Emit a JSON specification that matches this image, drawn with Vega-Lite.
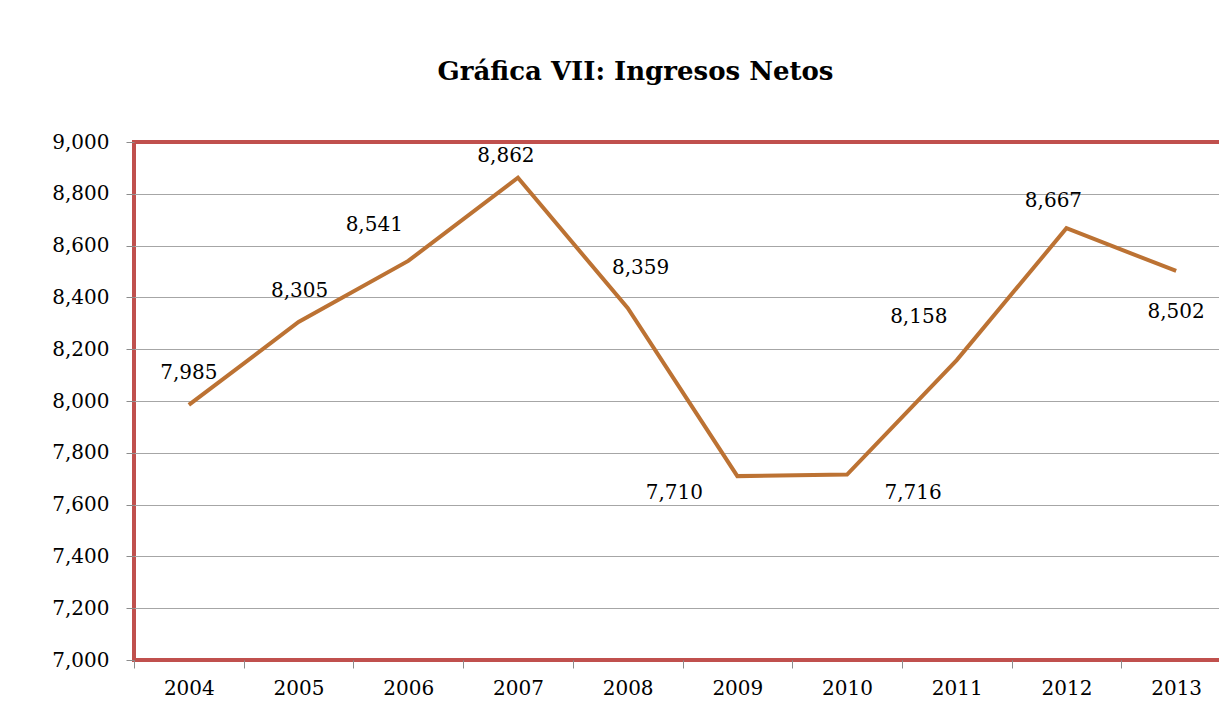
{
  "$schema": "https://vega.github.io/schema/vega-lite/v6.json",
  "autosize": {"type": "none"},
  "width": 1097,
  "height": 518,
  "padding": {"left": 134, "top": 142, "right": 0, "bottom": 65},
  "background": "white",
  "config": {
    "view": {"stroke": "#C0504D", "strokeWidth": 4},
    "font": "DejaVu Serif"
  },
  "title": {
    "text": "Gráfica VII: Ingresos Netos",
    "font": "DejaVu Serif",
    "fontSize": 26,
    "fontWeight": "bold",
    "color": "black",
    "anchor": "middle",
    "dx": -47,
    "offset": 47
  },
  "data": {
    "values": [
      {"year": "2004", "value": 7985},
      {"year": "2005", "value": 8305},
      {"year": "2006", "value": 8541},
      {"year": "2007", "value": 8862},
      {"year": "2008", "value": 8359},
      {"year": "2009", "value": 7710},
      {"year": "2010", "value": 7716},
      {"year": "2011", "value": 8158},
      {"year": "2012", "value": 8667},
      {"year": "2013", "value": 8502}
    ]
  },
  "encoding": {
    "x": {
      "field": "year",
      "type": "ordinal",
      "title": null,
      "axis": {
        "labelAngle": 0,
        "labelFont": "DejaVu Serif",
        "labelFontSize": 20,
        "labelColor": "black",
        "labelPadding": 10,
        "domain": false,
        "tickBand": "extent",
        "tickColor": "#8C8C8C",
        "tickSize": 8,
        "grid": false
      }
    },
    "y": {
      "field": "value",
      "type": "quantitative",
      "title": null,
      "scale": {"domain": [7000, 9000], "nice": false, "zero": false},
      "axis": {
        "values": [7000, 7200, 7400, 7600, 7800, 8000, 8200, 8400, 8600, 8800, 9000],
        "format": ",d",
        "labelFont": "DejaVu Serif",
        "labelFontSize": 20,
        "labelColor": "black",
        "labelPadding": 17,
        "domain": false,
        "tickColor": "#8C8C8C",
        "tickSize": 8,
        "grid": true,
        "gridColor": "#A6A6A6",
        "gridWidth": 1.2,
        "gridOpacity": {"condition": {"test": "datum.value == 9000 || datum.value == 7000", "value": 0}, "value": 1}
      }
    }
  },
  "layer": [
    {"mark": {"type": "line", "color": "#BC7233", "strokeWidth": 4}},
    {"transform": [{"filter": "datum.year == '2004'"}], "mark": {"type": "text", "fontSize": 20, "font": "DejaVu Serif", "color": "black", "dx": 0, "dy": -32}, "encoding": {"text": {"field": "value", "type": "quantitative", "format": ",d"}}},
    {"transform": [{"filter": "datum.year == '2005'"}], "mark": {"type": "text", "fontSize": 20, "font": "DejaVu Serif", "color": "black", "dx": 1, "dy": -31}, "encoding": {"text": {"field": "value", "type": "quantitative", "format": ",d"}}},
    {"transform": [{"filter": "datum.year == '2006'"}], "mark": {"type": "text", "fontSize": 20, "font": "DejaVu Serif", "color": "black", "dx": -34, "dy": -36}, "encoding": {"text": {"field": "value", "type": "quantitative", "format": ",d"}}},
    {"transform": [{"filter": "datum.year == '2007'"}], "mark": {"type": "text", "fontSize": 20, "font": "DejaVu Serif", "color": "black", "dx": -12, "dy": -22}, "encoding": {"text": {"field": "value", "type": "quantitative", "format": ",d"}}},
    {"transform": [{"filter": "datum.year == '2008'"}], "mark": {"type": "text", "fontSize": 20, "font": "DejaVu Serif", "color": "black", "dx": 13, "dy": -40}, "encoding": {"text": {"field": "value", "type": "quantitative", "format": ",d"}}},
    {"transform": [{"filter": "datum.year == '2009'"}], "mark": {"type": "text", "fontSize": 20, "font": "DejaVu Serif", "color": "black", "dx": -63, "dy": 17}, "encoding": {"text": {"field": "value", "type": "quantitative", "format": ",d"}}},
    {"transform": [{"filter": "datum.year == '2010'"}], "mark": {"type": "text", "fontSize": 20, "font": "DejaVu Serif", "color": "black", "dx": 66, "dy": 18}, "encoding": {"text": {"field": "value", "type": "quantitative", "format": ",d"}}},
    {"transform": [{"filter": "datum.year == '2011'"}], "mark": {"type": "text", "fontSize": 20, "font": "DejaVu Serif", "color": "black", "dx": -38, "dy": -43}, "encoding": {"text": {"field": "value", "type": "quantitative", "format": ",d"}}},
    {"transform": [{"filter": "datum.year == '2012'"}], "mark": {"type": "text", "fontSize": 20, "font": "DejaVu Serif", "color": "black", "dx": -13, "dy": -27}, "encoding": {"text": {"field": "value", "type": "quantitative", "format": ",d"}}},
    {"transform": [{"filter": "datum.year == '2013'"}], "mark": {"type": "text", "fontSize": 20, "font": "DejaVu Serif", "color": "black", "dx": 0, "dy": 41}, "encoding": {"text": {"field": "value", "type": "quantitative", "format": ",d"}}}
  ]
}
